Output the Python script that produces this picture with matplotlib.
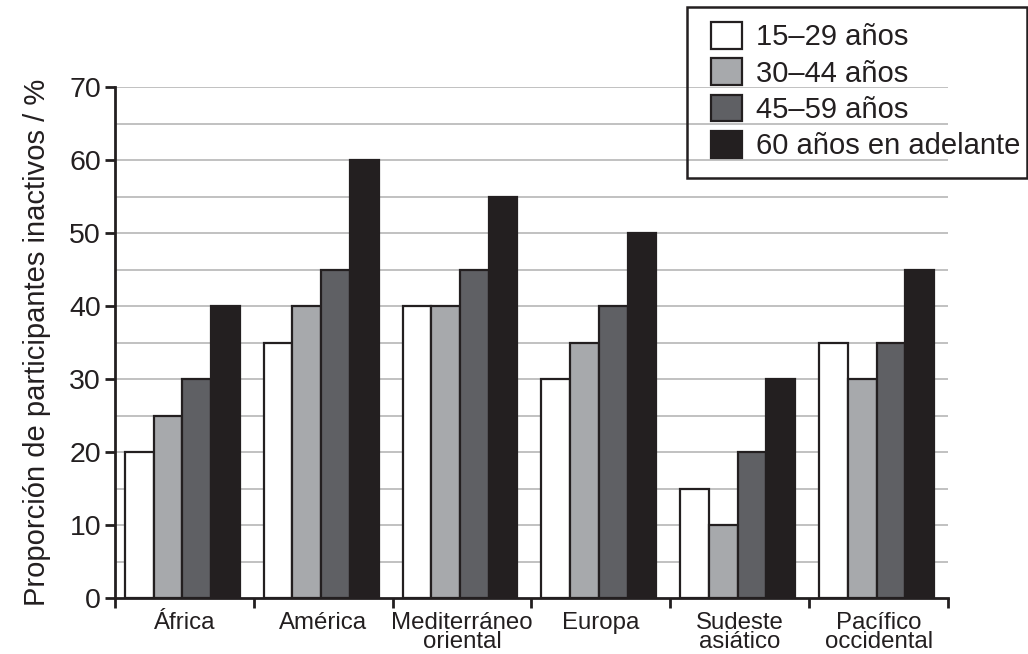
import matplotlib
matplotlib.use("Agg")
import matplotlib.pyplot as plt
from matplotlib.patches import Rectangle
import numpy as np

plt.rcParams['font.family'] = ['Liberation Sans', 'DejaVu Sans']

categories = ["África", "América", "Mediterráneo\noriental", "Europa", "Sudeste\nasiático", "Pacífico\noccidental"]
series_labels = ["15–29 años", "30–44 años", "45–59 años", "60 años en adelante"]
v15_29 = [20, 35, 40, 30, 15, 35]
v30_44 = [25, 40, 40, 35, 10, 30]
v45_59 = [30, 45, 45, 40, 20, 35]
v60 = [40, 60, 55, 50, 30, 45]
series = [v15_29, v30_44, v45_59, v60]
colors = ["#ffffff", "#a7a9ac", "#5f6064", "#231f20"]
edge = "#231f20"

fig = plt.figure(figsize=(10.28, 6.54), dpi=100)
ax = fig.add_axes([115/1028, 1-598/654, (948-115)/1028, (598-87)/654])

x = np.arange(len(categories))
w = 0.207
for i, (vals, c) in enumerate(zip(series, colors)):
    ax.bar(x + (i - 1.5) * w - 0.015, vals, w, color=c, edgecolor=edge, linewidth=1.6,
           label=series_labels[i], zorder=3)

ax.set_xlim(-0.5, len(categories) - 0.5)
ax.set_ylim(0, 70)
ax.set_yticks(np.arange(0, 71, 10))
ax.set_yticks(np.arange(5, 71, 10), minor=True)
for yv in np.arange(5, 71, 5):
    ax.axhline(yv, color="#bcbcbc", linewidth=1.3, zorder=1)

ax.set_xticks(np.arange(-0.5, len(categories), 1.0))
ax.set_xticklabels([])
ax.set_xticks(x, minor=True)
ax.set_xticklabels(categories, minor=True, fontsize=17.3, linespacing=0.82, color="#231f20")
ax.tick_params(axis='x', which='minor', length=0, pad=10)
ax.tick_params(axis='x', which='major', length=7, width=2, color=edge, direction='out')
ax.tick_params(axis='y', which='major', length=7, width=2, color=edge, labelsize=20.5, pad=3, labelcolor="#231f20")
ax.tick_params(axis='y', which='minor', length=0)

for s in ['top', 'right']:
    ax.spines[s].set_visible(False)
for s in ['left', 'bottom']:
    ax.spines[s].set_linewidth(2)
    ax.spines[s].set_color(edge)

ax.set_ylabel("Proporción de participantes inactivos / %", fontsize=21, labelpad=13, color="#231f20")

leg = fig.legend(loc='upper left', bbox_to_anchor=(711/1028, 1-22/654), fontsize=21,
                 frameon=False, handlelength=1.05, handleheight=1.03, handletextpad=0.5,
                 labelspacing=0.24, borderpad=0, borderaxespad=0)
for t in leg.get_texts():
    t.set_color("#231f20")

fig.patches.append(Rectangle((687/1028, 1-178/654), 340/1028, 171/654,
                             transform=fig.transFigure, fill=False,
                             edgecolor=edge, linewidth=1.8))

fig.savefig("out.png", dpi=100)
